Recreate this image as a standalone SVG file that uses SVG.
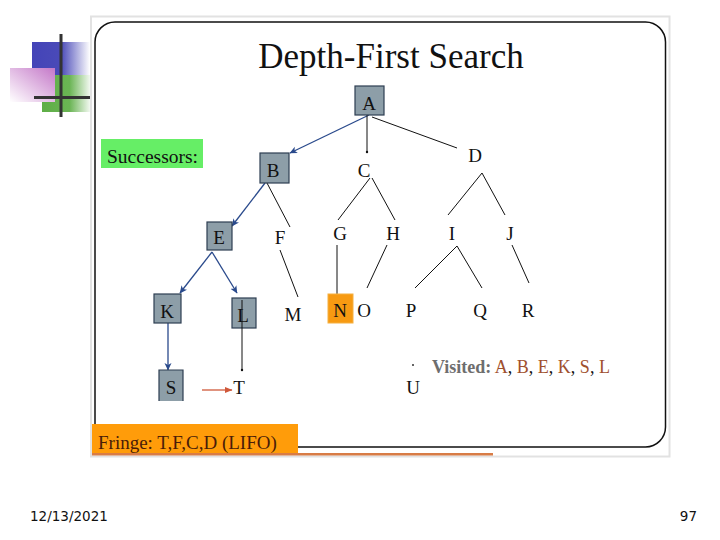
<svg xmlns="http://www.w3.org/2000/svg" width="720" height="540" viewBox="0 0 720 540">
<defs>
<style>
.t{font-family:"Liberation Serif","Times New Roman",serif;fill:#111}
.lbl{font-size:19px;text-anchor:middle}
.box{fill:#8d9ea8;stroke:#2e3e52;stroke-width:1.2}
.ln{stroke:#111;stroke-width:1;fill:none}
.bl{stroke:#2a4a8c;stroke-width:1.3;fill:none}
</style>
<marker id="ab" markerWidth="8" markerHeight="8" refX="7" refY="4" orient="auto" markerUnits="userSpaceOnUse"><path d="M0,0.5 L7.5,4 L0,7.5 L2,4 Z" fill="#2a4a8c"/></marker>
<marker id="ar" markerWidth="8" markerHeight="8" refX="7" refY="4" orient="auto" markerUnits="userSpaceOnUse"><path d="M0,1 L7.5,4 L0,7 Z" fill="#d0583a"/></marker>
<linearGradient id="gb" x1="0" x2="1" y1="0" y2="0"><stop offset="0" stop-color="#4444b8"/><stop offset="0.5" stop-color="#4a4ab8"/><stop offset="1" stop-color="#ffffff"/></linearGradient>
<linearGradient id="gg" x1="0" x2="1" y1="0" y2="0"><stop offset="0" stop-color="#5eae46"/><stop offset="0.55" stop-color="#6ab454"/><stop offset="1" stop-color="#ffffff"/></linearGradient>
<linearGradient id="gp" x1="1" x2="0" y1="0" y2="1"><stop offset="0" stop-color="#c478c8"/><stop offset="1" stop-color="#ffffff"/></linearGradient>
</defs>
<rect width="720" height="540" fill="#ffffff"/>
<g id="logo">
<rect x="32" y="42" width="58" height="33" fill="url(#gb)"/>
<rect x="42" y="75" width="50" height="37" fill="url(#gg)"/>
<rect x="10" y="68" width="45" height="34" fill="url(#gp)"/>
<rect x="59.5" y="34" width="3" height="83" fill="#333"/>
<rect x="34" y="96" width="56" height="3" fill="#333"/>
</g>
<g id="frame">
<rect x="91" y="16.5" width="578.5" height="440" fill="none" stroke="#e2e2e2" stroke-width="2"/>
<rect x="95" y="22" width="570.5" height="425" rx="20" ry="20" fill="#ffffff" stroke="#111" stroke-width="1.5"/>
<rect x="92" y="453" width="401" height="2.5" fill="#d87c46"/>
</g>
<text class="t" x="391" y="68" font-size="35" text-anchor="middle">Depth-First Search</text>
<g id="successors">
<rect x="101" y="139" width="102" height="29" fill="#66ee66"/>
<text class="t" x="107" y="163" font-size="19.5">Successors:</text>
</g>
<g id="connectors">
<line class="bl" x1="369" y1="115" x2="290" y2="153" marker-end="url(#ab)"/>
<line class="ln" x1="367" y1="115" x2="367" y2="152"/>
<circle cx="367" cy="152" r="1.2" fill="#111"/>
<line class="ln" x1="372" y1="117" x2="457" y2="148"/>
<line class="bl" x1="265" y1="183" x2="232" y2="226" marker-end="url(#ab)"/>
<line class="ln" x1="267" y1="183" x2="290" y2="227"/>
<line class="ln" x1="370" y1="178" x2="338" y2="220"/>
<line class="ln" x1="372" y1="178" x2="395" y2="220"/>
<line class="ln" x1="482" y1="173" x2="448" y2="215"/>
<line class="ln" x1="482" y1="173" x2="505" y2="215"/>
<line class="bl" x1="212" y1="252" x2="180" y2="293" stroke-width="2.2" marker-end="url(#ab)"/>
<line class="bl" x1="212" y1="252" x2="237" y2="293" marker-end="url(#ab)"/>
<line class="ln" x1="280" y1="250" x2="298" y2="297"/>
<line class="ln" x1="337" y1="245" x2="337" y2="295"/>
<line class="ln" x1="387" y1="245" x2="367" y2="288"/>
<line class="ln" x1="457" y1="246" x2="415" y2="288"/>
<line class="ln" x1="457" y1="246" x2="482" y2="288"/>
<line class="ln" x1="512" y1="245" x2="529" y2="283"/>
<line class="bl" x1="168" y1="323" x2="168" y2="370" marker-end="url(#ab)"/>
<line class="ar" x1="202" y1="390" x2="232" y2="390" stroke="#d0583a" stroke-width="1.3" marker-end="url(#ar)"/>
</g>
<g id="node-A"><rect class="box" x="355" y="86" width="29" height="29"/><text class="t lbl" x="369" y="110">A</text></g>
<g id="node-B"><rect class="box" x="260" y="153" width="29" height="30"/><text class="t lbl" x="273" y="177">B</text></g>
<g id="node-C"><text class="t lbl" x="364" y="177">C</text></g>
<g id="node-D"><text class="t lbl" x="475" y="162">D</text></g>
<g id="node-E"><rect class="box" x="207" y="222" width="25" height="28"/><text class="t lbl" x="219" y="244">E</text></g>
<g id="node-F"><text class="t lbl" x="280" y="244">F</text></g>
<g id="node-G"><text class="t lbl" x="340" y="240">G</text></g>
<g id="node-H"><text class="t lbl" x="393" y="240">H</text></g>
<g id="node-I"><text class="t lbl" x="452" y="240">I</text></g>
<g id="node-J"><text class="t lbl" x="510" y="240">J</text></g>
<g id="node-K"><rect class="box" x="154" y="294" width="27" height="29"/><text class="t lbl" x="167" y="318">K</text></g>
<g id="node-L"><rect class="box" x="232" y="298" width="24" height="30"/><text class="t lbl" x="243" y="322">L</text></g>
<g id="node-M"><text class="t lbl" x="293" y="321">M</text></g>
<g id="node-N"><rect x="328" y="294" width="25" height="29" fill="#f79a12" stroke="#f5b040" stroke-width="1"/><text class="t lbl" x="340" y="317">N</text></g>
<g id="node-O"><text class="t lbl" x="364" y="317">O</text></g>
<g id="node-P"><text class="t lbl" x="411" y="317">P</text></g>
<g id="node-Q"><text class="t lbl" x="480" y="317">Q</text></g>
<g id="node-R"><text class="t lbl" x="528" y="317">R</text></g>
<g id="node-S"><rect x="159" y="370" width="24" height="31" fill="#8d9ea8"/><path d="M159,401 V370 H183 V401" fill="none" stroke="#2e3e52" stroke-width="1.2"/><text class="t lbl" x="171" y="394">S</text></g>
<g id="node-T"><text class="t lbl" x="239" y="394">T</text></g>
<g id="node-U"><circle cx="413" cy="365" r="1" fill="#333"/><text class="t lbl" x="413" y="394">U</text></g>
<g id="lt-link"><line class="ln" x1="242" y1="300" x2="242" y2="370"/><circle cx="242" cy="370" r="1.2" fill="#111"/></g>
<g id="visited"><text class="t" x="432" y="373" font-size="18"><tspan font-weight="bold" fill="#6e6e6e">Visited:</tspan> <tspan fill="#a0502e">A</tspan>, <tspan fill="#a0502e">B</tspan>, <tspan fill="#a0502e">E</tspan>, <tspan fill="#a0502e">K</tspan>, <tspan fill="#a0502e">S</tspan>, <tspan fill="#a0502e">L</tspan></text></g>
<g id="fringe">
<rect x="92" y="424" width="206" height="29" fill="#ff9c0a"/>
<text class="t" x="98" y="449" font-size="19" style="fill:#4a1c08">Fringe: T,F,C,D (LIFO)</text>
</g>
<text x="30" y="521" font-family="DejaVu Sans, sans-serif" font-size="13.5" fill="#111">12/13/2021</text>
<text x="697" y="521" font-family="DejaVu Sans, sans-serif" font-size="13.5" fill="#111" text-anchor="end">97</text>
</svg>
